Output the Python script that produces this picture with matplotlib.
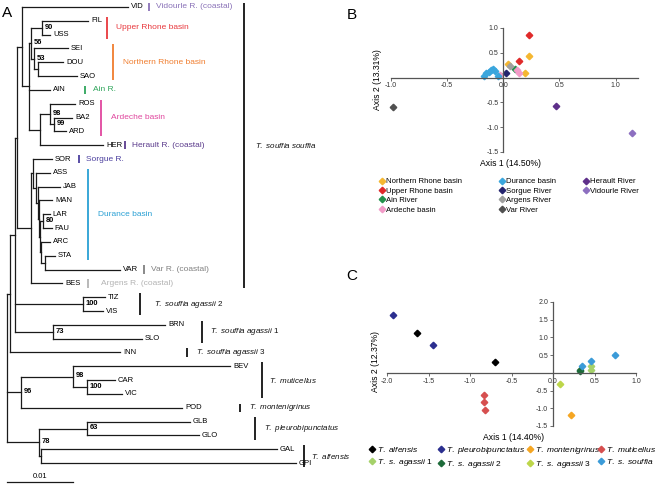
import matplotlib
matplotlib.use('Agg')
import matplotlib.pyplot as plt
from matplotlib.lines import Line2D

plt.rcParams['font.family'] = ['Liberation Sans', 'DejaVu Sans']
plt.rcParams['mathtext.fontset'] = 'custom'
plt.rcParams['mathtext.rm'] = 'Liberation Sans'
plt.rcParams['mathtext.it'] = 'Liberation Sans:italic'

# ---- panel A : NJ tree, branch lengths in substitutions / site ----
tree_nwk = """
(((((VID:0.01606,
 (((FIL:0.00697,USS:0.00121)90:0.00167,(SEI:0.00515,(DOU:0.00379,SAO:0.00591):0.0006)53:0.00045)56:0.0003,
  AIN:0.00318,
  ((ROS:0.00379,(BA2:0.00273,ARD:0.00182)99:0.0006)98:0.00152,HER:0.00955):0.00167):0.00106):0.00076,
 ((SOR:0.00288,(ASS:0.00212,(JAB:0.00333,(MAN:0.00197,((LAR:0.00106,FAU:0.00136)80:0.00045,
   (ARC:0.00136,(STA:0.00152,VAR:0.01136):0.0006):0.00015):0.00015):0.00015):0.0003):0.00045):0.0003,
  BES:0.0047):0.00212):0.0003,
 (TIZ:0.00333,VIS:0.00303)100:0.0103,
 (BRN:0.01697,SLO:0.01348)73:0.00576):0.00076,
 INN:0.01667):0.00045,
 ((BEV:0.02379,(CAR:0.00424,VIC:0.0053)100:0.00212)98:0.00788,POD:0.02439)96:0.00212,
 ((GLB:0.0156,GLO:0.01697)63:0.00727,(GAL:0.03576,GPI:0.03864):0.0003)78:0.00485);
"""

site_labels = ['Vidourle R. (coastal)', 'Upper Rhone basin', 'Northern Rhone basin', 'Ain R.',
               'Ardeche basin', 'Herault R. (coastal)', 'Sorgue R.', 'Durance basin',
               'Var R. (coastal)', 'Argens R. (coastal)']
site_tips = [('VID', 'VID'), ('FIL', 'USS'), ('SEI', 'SAO'), ('AIN', 'AIN'), ('ROS', 'ARD'),
             ('HER', 'HER'), ('SOR', 'SOR'), ('ASS', 'STA'), ('VAR', 'VAR'), ('BES', 'BES')]
site_colors = ['#8a72b8', '#e8383d', '#f07d2e', '#2ea55a', '#e0479e',
               '#5b3b8c', '#4b3f9e', '#2aa0d4', '#808080', '#b3b3b3']

species_labels = [r'$\mathit{T.\ souffia\ souffia}$', r'$\mathit{T.\ souffia\ agassii}$ 2',
                  r'$\mathit{T.\ souffia\ agassii}$ 1', r'$\mathit{T.\ souffia\ agassii}$ 3',
                  r'$\mathit{T.\ muticellus}$', r'$\mathit{T.\ montenigrinus}$',
                  r'$\mathit{T.\ pleurobipunctatus}$', r'$\mathit{T.\ alfensis}$']
species_tips = [('VID', 'BES'), ('TIZ', 'VIS'), ('BRN', 'SLO'), ('INN', 'INN'),
                ('BEV', 'VIC'), ('POD', 'POD'), ('GLB', 'GLO'), ('GAL', 'GPI')]

# ---- panel B : PCA of sites (T. souffia souffia) ----
b_groups = ['Northern Rhone basin', 'Upper Rhone basin', 'Ain River', 'Ardeche basin',
            'Durance basin', 'Sorgue River', 'Argens River', 'Var River',
            'Herault River', 'Vidourle River']
b_x = [[0.23, 0.04, 0.19], [0.23, 0.14], [0.10], [0.12, 0.14, -0.03],
       [-0.17, -0.15, -0.13, -0.11, -0.09, -0.07, -0.05], [0.02], [0.06], [-0.98],
       [0.47], [1.15]]
b_y = [[0.44, 0.28, 0.10], [0.85, 0.34], [0.17], [0.16, 0.09, 0.05],
       [0.04, 0.09, 0.12, 0.15, 0.17, 0.14, 0.04], [0.10], [0.23], [-0.59],
       [-0.58], [-1.11]]
b_colors = ['#f5b731', '#e02a2a', '#24924c', '#f29bc8', '#3aa6dd', '#24246e',
            '#a0a0a0', '#505050', '#5e2f8a', '#8d6fc0']

# ---- panel C : PCA of taxa ----
c_groups = [r'$\mathit{T.\ alfensis}$', r'$\mathit{T.\ s.\ agassii}$ 1',
            r'$\mathit{T.\ pleurobipunctatus}$', r'$\mathit{T.\ s.\ agassii}$ 2',
            r'$\mathit{T.\ montenigrinus}$', r'$\mathit{T.\ s.\ agassii}$ 3',
            r'$\mathit{T.\ muticellus}$', r'$\mathit{T.\ s.\ souffia}$']
c_x = [[-1.64, -0.70], [0.46, 0.46], [-1.93, -1.45], [0.32, 0.33], [0.22], [0.08],
       [-0.83, -0.83, -0.82], [0.35, 0.46, 0.75]]
c_y = [[1.13, 0.30], [0.18, 0.08], [1.62, 0.78], [0.06, 0.08], [-1.18], [-0.32],
       [-0.63, -0.81, -1.06], [0.19, 0.34, 0.51]]
c_colors = ['#000000', '#a5d16a', '#2b2f8f', '#1e6b3a', '#f5a623', '#bdd64a',
            '#d64f4f', '#3b9bd8']


def parse_newick(s):
    s = ''.join(s.split())
    pos = 0

    def node():
        nonlocal pos
        kids = []
        if s[pos] == '(':
            pos += 1
            kids.append(node())
            while s[pos] == ',':
                pos += 1
                kids.append(node())
            pos += 1
        start = pos
        while s[pos] not in ':,();':
            pos += 1
        name = s[start:pos]
        bl = 0.0
        if s[pos] == ':':
            pos += 1
            start = pos
            while s[pos] not in ',();':
                pos += 1
            bl = float(s[start:pos])
        return {'name': name, 'len': bl, 'kids': kids}
    return node()


W, H = 659, 487
fig = plt.figure(figsize=(W / 100, H / 100), dpi=100)

SCALE = 6600.0   # px per substitution
X0 = 7.0
DY = 13.82       # px between tips
Y0 = 7.0

ax = fig.add_axes([0, 0, 1, 1])
ax.set_xlim(-X0 / SCALE, (W - X0) / SCALE)
ax.set_ylim((H - Y0) / DY, -Y0 / DY)
ax.axis('off')


def px(x):
    return (x - X0) / SCALE


root = parse_newick(tree_nwk)
tips = []


def layout(n, x):
    n['x'] = x + n['len']
    if not n['kids']:
        n['y'] = len(tips)
        tips.append(n)
    else:
        for k in n['kids']:
            layout(k, n['x'])
        n['y'] = (n['kids'][0]['y'] + n['kids'][-1]['y']) / 2


layout(root, 0.0)
tip_y = {t['name']: t['y'] for t in tips}

lc = '#1a1a1a'


def draw(n):
    if not n['kids']:
        ax.text(n['x'] + 3 / SCALE, n['y'], n['name'], fontsize=5.5, ha='left', va='center')
        return
    ax.plot([n['x']] * 2, [n['kids'][0]['y'], n['kids'][-1]['y']], color=lc, lw=0.9,
            solid_capstyle='projecting')
    for k in n['kids']:
        ax.plot([n['x'], k['x']], [k['y']] * 2, color=lc, lw=0.9, solid_capstyle='projecting')
        draw(k)
    if n['name']:
        ax.text(n['x'] + 3 / SCALE, n['y'] - 0.05, n['name'], fontsize=5.4, fontweight='bold',
                ha='left', va='center')


draw(root)

site_bar_x = [149, 107, 113, 85, 101, 125, 79, 88, 144, 88]
site_text_x = [156, 116, 123, 93, 111, 132, 86, 98, 151, 101]
for lab, (a, b), col, bx, tx in zip(site_labels, site_tips, site_colors, site_bar_x, site_text_x):
    ya, yb = tip_y[a] - 0.3, tip_y[b] + 0.3
    ax.plot([px(bx)] * 2, [ya, yb], color=col, lw=1.3, solid_capstyle='butt')
    ax.text(px(tx), (ya + yb) / 2, lab, color=col, fontsize=6, ha='left', va='center')

sp_bar_x = [244, 140, 202, 187, 262, 240, 255, 304]
sp_text_x = [255, 154, 210, 196, 269, 249, 264, 311]
for lab, (a, b), bx, tx in zip(species_labels, species_tips, sp_bar_x, sp_text_x):
    ya, yb = tip_y[a] - 0.3, tip_y[b] + 0.3
    ax.plot([px(bx)] * 2, [ya, yb], color='#111111', lw=1.3, solid_capstyle='butt')
    ax.text(px(tx), (ya + yb) / 2, lab, color='#111111', fontsize=5.8, ha='left', va='center')

# scale bar
sb_y = (482 - Y0) / DY
ax.plot([0, 0.01], [sb_y, sb_y], color=lc, lw=0.9)
ax.text(0.005, sb_y - 0.15, '0.01', fontsize=5.5, ha='center', va='bottom')


def fpos(x, y):
    return x / W, 1 - y / H


for letter, (x, y) in zip('ABC', [(7, 13), (352, 15), (352, 276)]):
    fig.text(*fpos(x, y), letter, fontsize=11, ha='center', va='center')


def pca_axes(rect, xlim, ylim, xticks, yticks):
    a = fig.add_axes([rect[0] / W, 1 - rect[3] / H, (rect[2] - rect[0]) / W, (rect[3] - rect[1]) / H])
    a.set_xlim(*xlim)
    a.set_ylim(*ylim)
    for s in ['top', 'right']:
        a.spines[s].set_visible(False)
    for s in ['left', 'bottom']:
        a.spines[s].set_position(('data', 0))
        a.spines[s].set_color('#555555')
        a.spines[s].set_linewidth(0.9)
    a.set_xticks(xticks)
    a.set_xticklabels([f'{v:.1f}' for v in xticks])
    a.set_yticks(yticks)
    a.set_yticklabels([f'{v:.1f}' for v in yticks])
    a.tick_params(length=2, width=0.6, color='#555555', labelsize=5, labelcolor='#333333', pad=1.5)
    a.patch.set_alpha(0)
    return a


axB = pca_axes((391, 28, 638, 152), (-1.0, 1.2), (-1.5, 1.0),
               [-1.0, -0.5, 0.0, 0.5, 1.0], [-1.5, -1.0, -0.5, 0.5, 1.0])
for xs, ys, col in zip(b_x, b_y, b_colors):
    axB.plot(xs, ys, ls='none', marker='D', ms=3.3, color=col, mec=col, clip_on=False)
fig.text(*fpos(510, 164), 'Axis 1 (14.50%)', fontsize=6.2, ha='center', va='center')
fig.text(*fpos(378, 80), 'Axis 2 (13.31%)', fontsize=6.2, ha='center', va='center', rotation=90)

axC = pca_axes((387, 302, 636, 426), (-2.0, 1.0), (-1.5, 2.0),
               [-2.0, -1.5, -1.0, -0.5, 0.0, 0.5, 1.0], [-1.5, -1.0, -0.5, 0.5, 1.0, 1.5, 2.0])
for xs, ys, col in zip(c_x, c_y, c_colors):
    axC.plot(xs, ys, ls='none', marker='D', ms=3.3, color=col, mec=col, clip_on=False)
fig.text(*fpos(514, 438), 'Axis 1 (14.40%)', fontsize=6.2, ha='center', va='center')
fig.text(*fpos(376, 362), 'Axis 2 (12.37%)', fontsize=6.2, ha='center', va='center', rotation=90)


def legend_column(labels, colors, x, y, fs, spacing):
    handles = [Line2D([], [], ls='none', marker='D', ms=3.3, color=c, mec=c) for c in colors]
    fig.legend(handles, labels, loc='upper left', bbox_to_anchor=fpos(x, y), frameon=False,
               fontsize=fs, handlelength=0.5, handletextpad=0.3, labelspacing=spacing,
               borderpad=0, borderaxespad=0)


for i, lx in enumerate([380, 500, 584]):
    legend_column(b_groups[4 * i:4 * i + 4], b_colors[4 * i:4 * i + 4], lx, 178, 5.6, 0.25)
for i, lx in enumerate([370, 439, 528, 599]):
    legend_column(c_groups[2 * i:2 * i + 2], c_colors[2 * i:2 * i + 2], lx, 445, 6.0, 0.3)

fig.savefig('out.png', dpi=100)
